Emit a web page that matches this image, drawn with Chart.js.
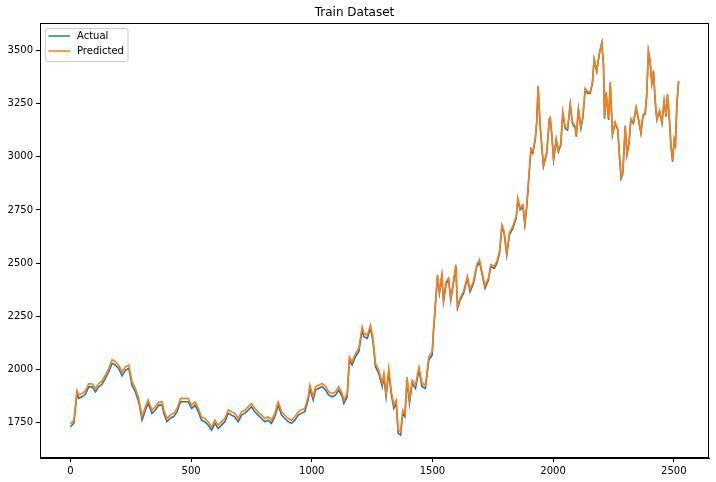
<!DOCTYPE html>
<html>
<head>
<meta charset="utf-8">
<script src="https://cdn.jsdelivr.net/npm/chart.js"></script>
<style>
  body { margin: 0; background: #fff; }
  #wrap { width: 716px; height: 482px; }
</style>
</head>
<body>
<div id="wrap"><canvas id="trainChart" width="716" height="482"></canvas></div>
<script>
// sample index (day number in training set)
const trainIndex = [0,14,21,27,34,48,62,76,90,104,
  117,131,145,159,173,186,200,214,228,242,
  255,269,283,297,311,322,338,352,366,380,
  387,400,414,428,442,456,469,488,502,516,
  530,543,557,571,585,599,612,626,640,654,
  668,681,695,709,723,737,750,764,778,792,
  806,819,833,847,861,875,888,902,916,930,
  944,957,971,985,992,1006,1015,1029,1043,1057,
  1071,1085,1098,1112,1126,1133,1147,1156,1167,1181,
  1195,1209,1216,1230,1243,1253,1264,1278,1292,1299,
  1308,1319,1330,1340,1350,1358,1368,1377,1386,1395,
  1405,1416,1430,1444,1457,1471,1485,1499,1504,1511,
  1521,1529,1539,1546,1557,1567,1576,1587,1597,1604,
  1615,1629,1645,1656,1670,1684,1695,1705,1718,1732,
  1742,1756,1767,1778,1788,1797,1808,1819,1833,1847,
  1854,1863,1875,1883,1891,1899,1908,1916,1926,1932,
  1938,1946,1953,1960,1974,1984,1988,1995,2002,2013,
  2022,2032,2040,2050,2060,2071,2080,2092,2096,2105,
  2115,2123,2133,2143,2154,2163,2170,2181,2191,2202,
  2209,2213,2220,2230,2237,2246,2257,2268,2275,2282,
  2289,2299,2306,2315,2322,2333,2344,2354,2364,2372,
  2382,2388,2395,2402,2409,2416,2423,2430,2441,2451,
  2460,2468,2474,2482,2488,2495,2502,2507,2513,2520];

const actualValues = [1729,1745,1816,1886,1863,1870,1882,1917,1917,1894,
  1917,1929,1957,1988,2028,2020,2004,1969,1996,2004,
  1925,1894,1847,1761,1808,1839,1792,1808,1831,1831,
  1792,1753,1769,1777,1800,1847,1847,1847,1815,1831,
  1800,1760,1753,1737,1713,1745,1721,1737,1753,1792,
  1784,1776,1753,1784,1792,1808,1823,1800,1784,1768,
  1753,1760,1745,1776,1831,1784,1768,1753,1745,1760,
  1784,1792,1800,1855,1910,1855,1902,1910,1918,1902,
  1878,1870,1878,1902,1870,1839,1870,2043,2020,2059,
  2083,2185,2153,2145,2192,2137,2012,1980,1918,1965,
  1870,1988,1878,1816,1839,1698,1690,1792,1776,1949,
  1839,1933,1910,1996,1918,1910,2043,2067,2169,2279,
  2436,2357,2436,2318,2404,2420,2326,2404,2483,2287,
  2326,2357,2428,2365,2404,2483,2506,2451,2381,2420,
  2483,2475,2498,2546,2671,2640,2538,2632,2663,2710,
  2797,2750,2765,2679,2765,2891,3032,3017,3080,3158,
  3330,3150,3050,2954,3017,3174,3180,3095,2985,3079,
  3024,3056,3205,3134,3126,3244,3158,3134,3095,3221,
  3134,3181,3315,3299,3299,3346,3456,3401,3480,3535,
  3425,3181,3299,3174,3346,3103,3158,3126,3001,2899,
  2922,3142,3009,3064,3174,3158,3229,3174,3111,3189,
  3205,3291,3495,3448,3346,3401,3260,3174,3213,3158,
  3260,3189,3291,3174,3056,2977,3079,3056,3244,3354];

const predictedValues = [1742,1760,1832,1900,1880,1885,1897,1932,1931,1910,
  1932,1944,1972,2003,2045,2036,2019,1985,2011,2020,
  1942,1910,1862,1777,1824,1855,1808,1823,1846,1847,
  1808,1768,1785,1792,1815,1862,1863,1862,1831,1846,
  1816,1775,1769,1752,1729,1760,1737,1752,1769,1808,
  1799,1792,1768,1800,1807,1824,1838,1816,1799,1784,
  1768,1776,1760,1792,1846,1800,1783,1769,1760,1776,
  1799,1808,1815,1870,1925,1870,1917,1926,1933,1918,
  1893,1886,1893,1918,1885,1855,1886,2058,2036,2074,
  2099,2200,2169,2160,2207,2153,2027,1996,1933,1981,
  1885,2003,1894,1831,1855,1713,1706,1807,1792,1964,
  1855,1948,1926,2011,1934,1925,2058,2082,2180,2290,
  2446,2367,2446,2328,2414,2430,2336,2414,2493,2297,
  2336,2367,2438,2375,2414,2493,2516,2461,2391,2430,
  2493,2485,2508,2556,2680,2650,2548,2642,2673,2720,
  2806,2760,2775,2689,2775,2900,3040,3026,3088,3166,
  3336,3158,3058,2962,3025,3181,3186,3102,2992,3086,
  3031,3063,3212,3141,3133,3251,3165,3141,3102,3228,
  3141,3188,3322,3306,3306,3352,3462,3407,3486,3538,
  3430,3188,3305,3180,3352,3109,3164,3132,3007,2906,
  2928,3148,3015,3070,3180,3164,3235,3180,3117,3195,
  3211,3297,3500,3454,3352,3407,3266,3180,3219,3164,
  3266,3195,3297,3180,3062,2983,3085,3062,3250,3358];

const xTicks = [0, 500, 1000, 1500, 2000, 2500];
const yTicks = [1750, 2000, 2250, 2500, 2750, 3000, 3250, 3500];

const FONT = 'DejaVu Sans';

function toPoints(values) {
    return trainIndex.map((x, i) => ({ x: x, y: values[i] }));
}

// box around the plot + matplotlib-like legend in the top-left corner
const framePlugin = {
    id: 'frame',
    afterDraw(chart) {
        const ctx = chart.ctx;
        const a = chart.chartArea;
        ctx.save();
        ctx.strokeStyle = '#000';
        ctx.lineWidth = 1;
        ctx.strokeRect(Math.round(a.left) + 0.5, Math.round(a.top) + 0.5,
            Math.round(a.right - a.left) - 1, Math.round(a.bottom - a.top) - 1);

        // legend
        const lx = 45.5, ly = 28.5, lw = 82.5, lh = 33;
        ctx.fillStyle = 'rgba(255,255,255,0.8)';
        ctx.strokeStyle = '#cccccc';
        ctx.beginPath();
        ctx.roundRect(lx, ly, lw, lh, 2);
        ctx.fill();
        ctx.stroke();
        const items = chart.data.datasets;
        items.forEach((ds, i) => {
            const y = 36 + i * 15;
            ctx.strokeStyle = ds.borderColor;
            ctx.lineWidth = 1.5;
            ctx.beginPath();
            ctx.moveTo(48.5, y);
            ctx.lineTo(70, y);
            ctx.stroke();
            ctx.fillStyle = '#000';
            ctx.font = '10px "' + FONT + '"';
            ctx.textBaseline = 'middle';
            ctx.fillText(ds.label, 77, y + 0.5);
        });
        ctx.restore();
    }
};

new Chart(document.getElementById('trainChart').getContext('2d'), {
    type: 'line',
    data: {
        datasets: [{
            label: 'Actual',
            data: toPoints(actualValues),
            borderColor: '#1f77b4',
            borderWidth: 1.6,
            pointRadius: 0,
            tension: 0,
            fill: false,
            order: 2
        }, {
            label: 'Predicted',
            data: toPoints(predictedValues),
            borderColor: '#ff7f0e',
            borderWidth: 1.6,
            pointRadius: 0,
            tension: 0,
            fill: false,
            order: 1
        }]
    },
    options: {
        responsive: false,
        animation: false,
        layout: { padding: { left: 0, right: 7, top: 0, bottom: 0 } },
        plugins: {
            legend: { display: false },
            tooltip: { enabled: false },
            title: {
                display: true,
                text: 'Train Dataset',
                color: '#000',
                font: { family: FONT, size: 12, weight: 'normal' },
                padding: { top: 6, bottom: 2.6 }
            }
        },
        scales: {
            x: {
                type: 'linear',
                min: -126,
                max: 2646,
                afterBuildTicks: s => { s.ticks = xTicks.map(v => ({ value: v })); },
                afterFit: s => { s.height = 24; },
                grid: { drawOnChartArea: false, tickLength: 4, color: '#000' },
                border: { display: true, color: '#000' },
                ticks: {
                    color: '#000',
                    padding: 3,
                    maxRotation: 0,
                    font: { family: FONT, size: 10 },
                    callback: v => String(v)
                }
            },
            y: {
                min: 1582,
                max: 3630,
                afterBuildTicks: s => { s.ticks = yTicks.map(v => ({ value: v })); },
                afterFit: s => { s.width = 40; },
                grid: { drawOnChartArea: false, tickLength: 4, color: '#000' },
                border: { display: true, color: '#000' },
                ticks: {
                    color: '#000',
                    padding: 3,
                    font: { family: FONT, size: 10 },
                    callback: v => String(v)
                }
            }
        }
    },
    plugins: [framePlugin]
});
</script>
</body>
</html>
